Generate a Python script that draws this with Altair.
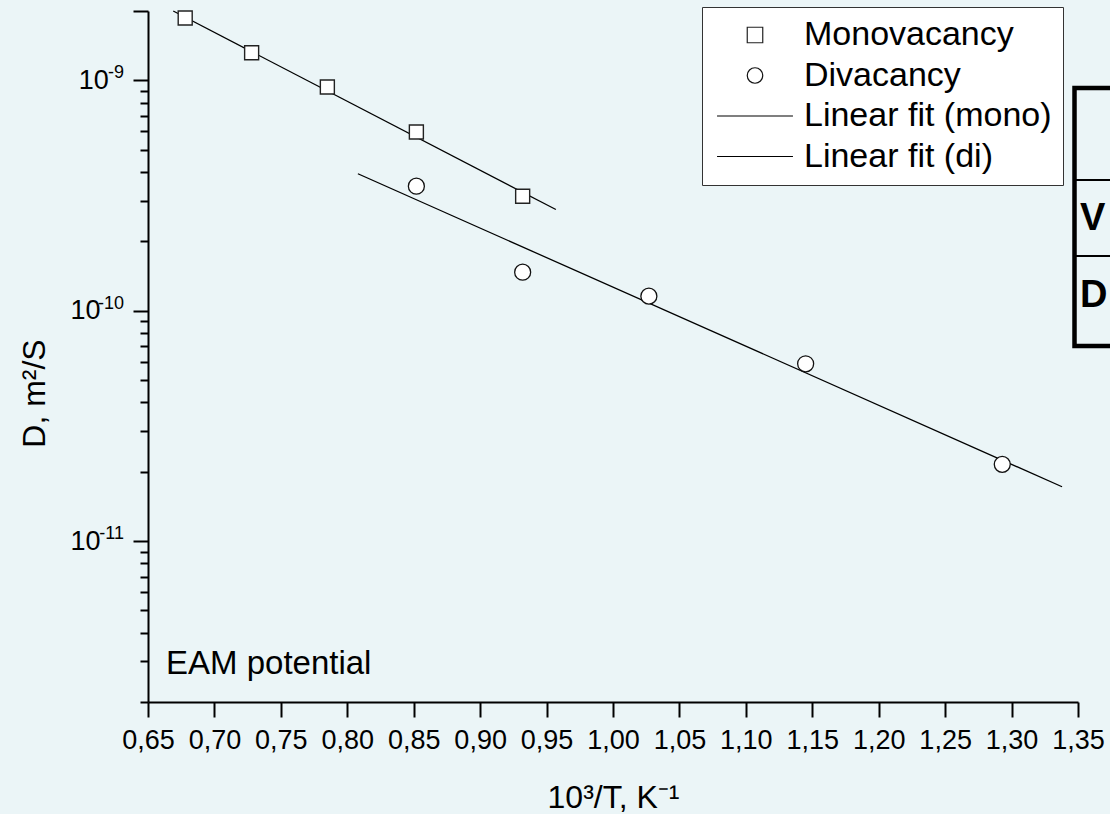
import altair as alt
import pandas as pd

FONT = "Liberation Sans"

# ---- data ----
mono_x = [0.678, 0.728, 0.785, 0.852, 0.932]
mono_d = [1.865e-9, 1.318e-9, 9.36e-10, 5.97e-10, 3.14e-10]
di_x = [0.852, 0.932, 1.027, 1.145, 1.293]
di_d = [3.47e-10, 1.469e-10, 1.156e-10, 5.88e-11, 2.152e-11]
fit_mono_x = [0.669, 0.957]
fit_mono_d = [2.0e-9, 2.75e-10]
fit_di_x = [0.808, 1.338]
fit_di_d = [3.93e-10, 1.72e-11]

series_names = ["Monovacancy", "Divacancy", "Linear fit (mono)", "Linear fit (di)"]
x_major = [0.65, 0.70, 0.75, 0.80, 0.85, 0.90, 0.95, 1.00, 1.05, 1.10, 1.15, 1.20, 1.25, 1.30, 1.35]
x_ticks = sorted(set([round(v, 3) for v in x_major] + [round(v + 0.025, 3) for v in x_major[:-1]]))
y_decades = [1e-12, 1e-11, 1e-10, 1e-9]
y_ticks = [m * d for d in y_decades for m in range(1, 10) if 2e-12 * 0.99 <= m * d <= 2e-9 * 1.01]
exp_vals = [1e-9, 1e-10, 1e-11]
exp_text = ["-9", "-10", "-11"]

pts_mono = pd.DataFrame({"x": mono_x, "D": mono_d, "series": ["Monovacancy"] * len(mono_x)})
pts_di = pd.DataFrame({"x": di_x, "D": di_d, "series": ["Divacancy"] * len(di_x)})
fits = pd.DataFrame({
    "x": fit_mono_x + fit_di_x,
    "D": fit_mono_d + fit_di_d,
    "series": ["Linear fit (mono)"] * 2 + ["Linear fit (di)"] * 2,
})
exps = pd.DataFrame({"D": exp_vals, "t": exp_text})

xscale = alt.Scale(domain=[0.65, 1.35], nice=False, zero=False)
yscale = alt.Scale(type="log", domain=[2e-12, 2e-9], nice=False)

x_major_test = "abs(datum.value*20 - round(datum.value*20)) < 0.001"
y_major_test = "abs(log(datum.value)/LN10 - round(log(datum.value)/LN10)) < 0.000001 || datum.value > 1.9e-9"
y_label_test = "abs(log(datum.value)/LN10 - round(log(datum.value)/LN10)) < 0.000001"

x_axis = alt.Axis(
    values=x_ticks,
    tickSize={"condition": {"test": x_major_test, "value": 15}, "value": 7},
    labelExpr=f"({x_major_test}) ? replace(format(datum.value, '.2f'), '.', ',') : ''",
    labelFontSize=27, labelPadding=10, labelOverlap=False, labelFlush=False,
    title="10³/T, K⁻¹", titleFontSize=32, titleFontWeight="normal",
    titleX=465, titleY=105, titleBaseline="alphabetic", titleAlign="center",
    grid=False,
)
y_axis = alt.Axis(
    values=y_ticks,
    tickSize={"condition": {"test": y_major_test, "value": 15}, "value": 8},
    labelExpr=f"({y_label_test}) ? '10' : ''",
    labelPadding={"condition": {"test": "datum.value > 5e-10", "value": 24.7}, "value": 33},
    labelFontSize=27, labelOverlap=False, labelFlush=False,
    title="D, m²/S", titleFontSize=32, titleFontWeight="normal",
    titleX=-104, titleY=382, titleBaseline="alphabetic", titleAlign="center", titleAngle=-90,
    grid=False,
)

shape_scale = alt.Scale(
    domain=series_names,
    range=["square", "circle", "M-4.9,0H4.9", "M-4.9,0H4.9"],
)
stroke_scale = alt.Scale(domain=series_names, range=["#222222", "#111111", "#000000", "#000000"])
legend = alt.Legend(
    title=None, orient="none", legendX=554, legendY=-4,
    fillColor="white", strokeColor="#333333",
    padding=11, symbolOffset=25, labelOffset=32, rowPadding=6.5,
    labelFontSize=34, labelFont=FONT, labelColor="black", labelLimit=500,
    symbolSize=240, symbolStrokeColor="black", symbolStrokeWidth=1.2, symbolFillColor="white",
)

lines = alt.Chart(fits).mark_line(color="black", strokeWidth=1.3).encode(
    x=alt.X("x:Q", scale=xscale, axis=x_axis),
    y=alt.Y("D:Q", scale=yscale, axis=y_axis),
    detail="series:N",
)
sq = alt.Chart(pts_mono).mark_point(filled=False, fill="white", strokeWidth=1.4, size=196, opacity=1).encode(
    x=alt.X("x:Q", scale=xscale),
    y=alt.Y("D:Q", scale=yscale),
    shape=alt.Shape("series:N", scale=shape_scale, legend=legend),
    stroke=alt.Stroke("series:N", scale=stroke_scale, legend=legend),
)
ci = alt.Chart(pts_di).mark_point(filled=False, fill="white", strokeWidth=1.3, size=256, opacity=1).encode(
    x=alt.X("x:Q", scale=xscale),
    y=alt.Y("D:Q", scale=yscale),
    shape=alt.Shape("series:N", scale=shape_scale, legend=legend),
    stroke=alt.Stroke("series:N", scale=stroke_scale, legend=legend),
)
exps_layer = alt.Chart(exps).mark_text(align="right", baseline="alphabetic", fontSize=18, font=FONT, color="black", dy=-2).encode(
    x=alt.value(-24),
    y=alt.Y("D:Q", scale=yscale),
    text="t:N",
)
eam = alt.Chart(pd.DataFrame({"t": ["EAM potential"]})).mark_text(
    align="left", baseline="alphabetic", fontSize=33, font=FONT, color="black"
).encode(x=alt.value(18), y=alt.value(663), text="t:N")

one = pd.DataFrame({"a": [0]})
table_box = alt.Chart(one).mark_rect(fillOpacity=0, stroke="black", strokeWidth=4.5).encode(
    x=alt.value(926.5), x2=alt.value(1000), y=alt.value(77), y2=alt.value(335)
)
rule1 = alt.Chart(one).mark_rule(color="black", strokeWidth=2).encode(
    x=alt.value(926.5), x2=alt.value(1000), y=alt.value(169)
)
rule2 = alt.Chart(one).mark_rule(color="black", strokeWidth=2).encode(
    x=alt.value(926.5), x2=alt.value(1000), y=alt.value(245)
)
tv = alt.Chart(pd.DataFrame({"t": ["V"]})).mark_text(
    align="left", baseline="alphabetic", fontSize=38, fontWeight="bold", font=FONT, color="black"
).encode(x=alt.value(932), y=alt.value(219), text="t:N")
td = alt.Chart(pd.DataFrame({"t": ["D"]})).mark_text(
    align="left", baseline="alphabetic", fontSize=38, fontWeight="bold", font=FONT, color="black"
).encode(x=alt.value(932), y=alt.value(296), text="t:N")

chart = alt.layer(lines, sq, ci, exps_layer, eam, table_box, rule1, rule2, tv, td).properties(
    width=930, height=691,
    background="#EBF5F7",
    padding={"left": 148, "top": 11, "right": 32, "bottom": 112},
    autosize=alt.AutoSizeParams(type="none"),
).configure_view(stroke="transparent").configure_axis(
    domainColor="black", domainWidth=2, tickColor="black", tickWidth=2,
    labelColor="black", labelFont=FONT, titleFont=FONT, titleColor="black",
)

chart.save("out.html", embed_options={"renderer": "svg", "actions": False})
